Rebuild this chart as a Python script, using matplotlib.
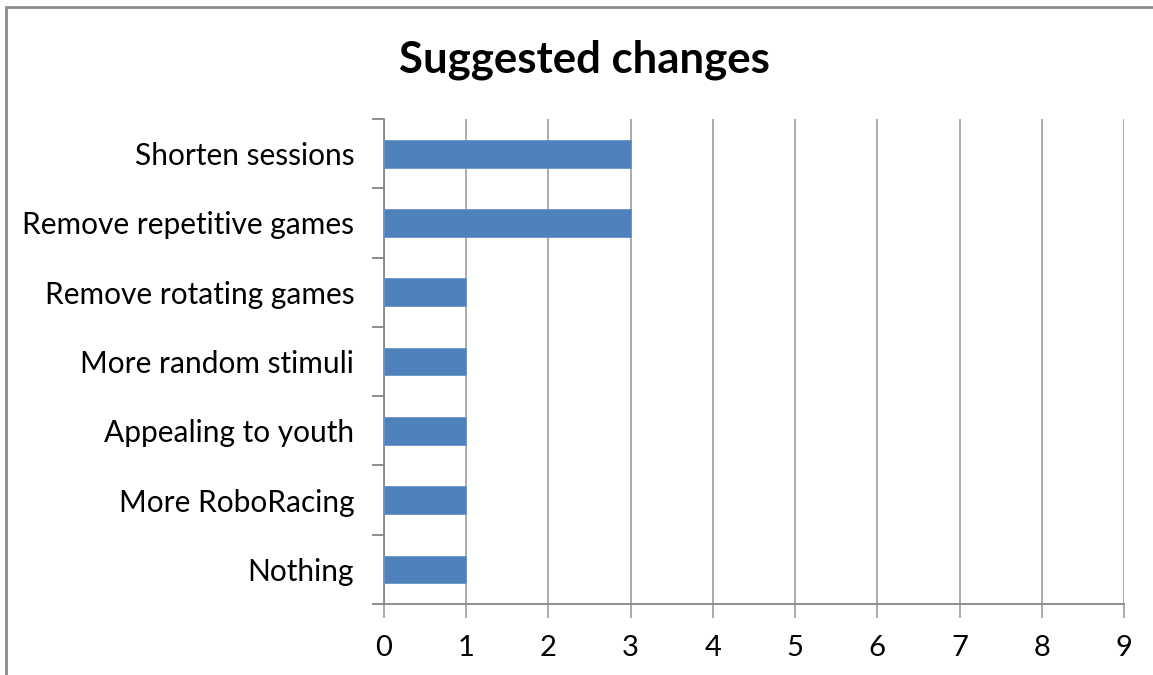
import matplotlib

matplotlib.use("Agg")
import matplotlib.pyplot as plt
from matplotlib.patches import Rectangle
import numpy as np

categories = [
    "Shorten sessions",
    "Remove repetitive games",
    "Remove rotating games",
    "More random stimuli",
    "Appealing to youth",
    "More RoboRacing",
    "Nothing",
]
counts = [3, 3, 1, 1, 1, 1, 1]
x_ticks = list(range(0, 10))

BAR = "#4F81BD"
GRID = "#A6A6A6"
AXIS = "#868686"

plt.rcParams["font.family"] = ["Lato", "DejaVu Sans"]

fig = plt.figure(figsize=(11.53, 6.75), dpi=100, facecolor="white")
ax = fig.add_axes([384 / 1153, 1 - 604 / 675, 740 / 1153, 485 / 675])

# chart border (right and bottom edges fall outside the canvas)
fig.patches.append(Rectangle((6 / 1153, -0.1), 1.2, 1 - 7 / 675 + 0.1,
                             transform=fig.transFigure, fill=False,
                             edgecolor="#8C8C8C", lw=2.0))

n = len(categories)
y = np.arange(n)[::-1]
ax.barh(y, counts, height=0.4, color=BAR, edgecolor="#6A94C8", lw=0.6, zorder=3)

ax.set_xlim(0, 9)
ax.set_ylim(-0.5, n - 0.5)
ax.set_xticks(x_ticks)
ax.set_xticklabels([str(t) for t in x_ticks], fontsize=21)
ax.grid(axis="x", color=GRID, lw=1.3, zorder=0)
ax.set_axisbelow(True)

# category labels sit between the boundary ticks
ax.set_yticks(np.arange(n + 1) - 0.5)
ax.set_yticklabels([])
ax.set_yticks(y, minor=True)
ax.set_yticklabels(categories, minor=True, fontsize=21.5)
ax.tick_params(axis="y", which="minor", length=0, pad=21.5)
ax.tick_params(axis="y", which="major", length=9, width=1.3, color=AXIS,
               direction="out")
ax.tick_params(axis="x", length=10, width=1.3, color=GRID, pad=12,
               direction="out")

for side in ("top", "right"):
    ax.spines[side].set_visible(False)
for side in ("left", "bottom"):
    ax.spines[side].set_color(AXIS)
    ax.spines[side].set_linewidth(1.3)

fig.text(584 / 1153, 1 - 60 / 675, "Suggested changes", ha="center",
         va="center", fontsize=31.5, fontweight="bold")

fig.savefig("out.png", dpi=100, facecolor="white")
